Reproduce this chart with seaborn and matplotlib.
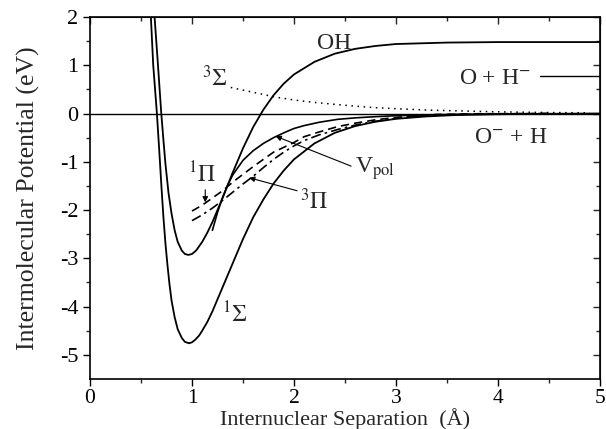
import matplotlib
matplotlib.use('Agg')
import matplotlib.pyplot as plt
import seaborn as sns

# curves (separation in Å, potential in eV)
sig1_r = [0.59, 0.62, 0.656, 0.68, 0.70, 0.72, 0.74, 0.76, 0.78, 0.80, 0.83, 0.86, 0.90, 0.93,
          0.97, 1.0, 1.03, 1.07, 1.1, 1.15, 1.2, 1.3, 1.4, 1.5, 1.6, 1.7, 1.8, 1.9, 2.0, 2.2, 2.4,
          2.6, 2.8, 3.0, 3.3, 3.6, 4.0, 4.5, 5.0]
sig1_v = [2.3, 1.0, 0.0, -0.8, -1.5, -2.15, -2.7, -3.15, -3.55, -3.88, -4.22, -4.47, -4.65, -4.73,
          -4.76, -4.74, -4.69, -4.6, -4.5, -4.32, -4.1, -3.6, -3.1, -2.6, -2.15, -1.78, -1.45, -1.18,
          -0.95, -0.62, -0.4, -0.26, -0.17, -0.11, -0.06, -0.03, -0.015, -0.005, 0.0]

oh_r = [0.625, 0.633, 0.66, 0.699, 0.72, 0.74, 0.77, 0.80, 0.83, 0.86, 0.90, 0.93, 0.965, 1.0,
        1.04, 1.1, 1.15, 1.2, 1.3, 1.4, 1.5, 1.6, 1.7, 1.8, 1.9, 2.0, 2.2, 2.4, 2.6, 2.8, 3.0, 3.5,
        4.0, 5.0]
oh_v = [2.3, 2.0, 1.2, 0.0, -0.55, -1.05, -1.65, -2.08, -2.42, -2.66, -2.84, -2.91, -2.93, -2.91,
        -2.84, -2.66, -2.47, -2.25, -1.75, -1.22, -0.72, -0.28, 0.08, 0.38, 0.62, 0.81, 1.07, 1.24,
        1.34, 1.40, 1.44, 1.47, 1.48, 1.48]

sig3_r = [1.38, 1.6, 1.82, 2.0, 2.2, 2.53, 2.8, 3.0, 3.33, 3.7, 4.0, 4.5, 4.9]
sig3_v = [0.54, 0.44, 0.34, 0.28, 0.23, 0.165, 0.12, 0.10, 0.07, 0.05, 0.035, 0.02, 0.015]

vpol_r = [1.2, 1.25, 1.3, 1.35, 1.4, 1.5, 1.6, 1.7, 1.8, 1.9, 2.0, 2.1, 2.25, 2.43, 2.6, 2.8, 3.0,
          3.4, 4.0, 5.0]
vpol_v = [-2.42, -2.05, -1.74, -1.48, -1.27, -0.97, -0.77, -0.62, -0.5, -0.4, -0.31, -0.25, -0.18,
          -0.12, -0.09, -0.065, -0.045, -0.025, -0.012, -0.005]

pi1_r = [1.0, 1.1, 1.2, 1.3, 1.4, 1.5, 1.6, 1.7, 1.8, 1.9, 2.0, 2.1, 2.25, 2.43, 2.6, 2.8, 2.92,
         3.1, 3.4, 3.8, 4.5]
pi1_v = [-2.02, -1.9, -1.75, -1.6, -1.42, -1.26, -1.1, -0.95, -0.8, -0.7, -0.6, -0.48, -0.38, -0.27,
         -0.2, -0.13, -0.1, -0.06, -0.02, -0.005, 0.0]

pi3_r = [1.0, 1.1, 1.2, 1.3, 1.4, 1.5, 1.6, 1.7, 1.8, 1.9, 2.0, 2.1, 2.25, 2.43, 2.6, 2.8, 3.0,
         3.2, 3.4, 3.8, 4.5]
pi3_v = [-2.22, -2.1, -1.96, -1.8, -1.63, -1.46, -1.3, -1.12, -0.95, -0.8, -0.67, -0.56, -0.44, -0.33,
         -0.24, -0.16, -0.1, -0.06, -0.03, -0.01, 0.0]

# O + H- asymptote marker
ohm_r = [4.41, 5.0]
ohm_v = [0.77, 0.77]

sns.set_style('ticks')
plt.rcParams['font.family'] = ['Liberation Serif', 'DejaVu Serif']
plt.rcParams['mathtext.fontset'] = 'stix'
plt.rcParams['axes.unicode_minus'] = False

fig = plt.figure(figsize=(6.06, 4.29), dpi=100)
ax = fig.add_axes([0.1485, 0.1166, 0.8416, 0.8438])

kw = dict(ax=ax, color='black', estimator=None, sort=False, legend=False)
sns.lineplot(x=sig1_r, y=sig1_v, lw=1.3, **kw)
sns.lineplot(x=oh_r, y=oh_v, lw=1.3, **kw)
sns.lineplot(x=vpol_r, y=vpol_v, lw=1.2, **kw)
sns.lineplot(x=sig3_r, y=sig3_v, lw=1.1, linestyle=(0, (1, 3)), **kw)
sns.lineplot(x=pi1_r, y=pi1_v, lw=1.2, linestyle=(0, (5, 3)), **kw)
sns.lineplot(x=pi3_r, y=pi3_v, lw=1.2, linestyle=(0, (6, 2.5, 1.5, 2.5)), **kw)
sns.lineplot(x=ohm_r, y=ohm_v, lw=1.0, **kw)
ax.axhline(0, color='black', lw=1.0)

ax.set_xlim(0, 5)
ax.set_ylim(-5.5, 2)
ax.set_xticks(range(0, 6))
ax.set_yticks(range(-5, 3))
ax.set_xticks([0.5, 1.5, 2.5, 3.5, 4.5], minor=True)
ax.set_yticks([-4.5, -3.5, -2.5, -1.5, -0.5, 0.5, 1.5], minor=True)
ax.tick_params(which='major', direction='out', length=5, width=1, labelsize=16, colors='black')
ax.tick_params(axis='x', which='major', pad=2, labelsize=15.5)
ax.tick_params(which='minor', direction='out', length=3, width=1)
for s in ax.spines.values():
    s.set_linewidth(1.2)
    s.set_color('black')

# top / right ticks point inward
top = ax.secondary_xaxis('top')
top.set_xticks(range(0, 6))
top.set_xticks([0.5, 1.5, 2.5, 3.5, 4.5], minor=True)
top.tick_params(which='major', direction='in', length=5, width=1, labeltop=False)
top.tick_params(which='minor', direction='in', length=3, width=1)
right = ax.secondary_yaxis('right')
right.set_yticks(range(-5, 3))
right.set_yticks([-4.5, -3.5, -2.5, -1.5, -0.5, 0.5, 1.5], minor=True)
right.tick_params(which='major', direction='in', length=5, width=1, labelright=False)
right.tick_params(which='minor', direction='in', length=3, width=1)

ax.set_xlabel('Internuclear Separation  (Å)', fontsize=16, labelpad=0)
ax.set_ylabel('Intermolecular Potential (eV)', fontsize=18.5, labelpad=14)

fs = 17
ax.text(2.39, 1.46, 'OH', fontsize=fs, ha='center', va='center')
ax.text(1.23, 0.72, r'$^{3}\Sigma$', fontsize=fs, ha='center', va='center')
ax.text(3.97, 0.72, r'O + H$^{-}$', fontsize=fs, ha='center', va='center')
ax.text(4.12, -0.5, r'O$^{-}$ + H', fontsize=fs, ha='center', va='center')
ax.text(1.10, -1.27, r'$^{1}\Pi$', fontsize=fs, ha='center', va='center')
ax.text(2.2, -1.82, r'$^{3}\Pi$', fontsize=fs, ha='center', va='center')
ax.text(1.42, -4.17, r'$^{1}\Sigma$', fontsize=fs, ha='center', va='center')
ax.text(2.6, -1.15, r'V$_{\mathrm{pol}}$', fontsize=fs, ha='left', va='center')

arrow = dict(arrowstyle='-|>', color='black', lw=0.8, mutation_scale=8, shrinkA=0, shrinkB=0)
ax.annotate('', xy=(1.13, -1.84), xytext=(1.13, -1.58), arrowprops=arrow)
ax.annotate('', xy=(1.56, -1.33), xytext=(2.03, -1.6), arrowprops=arrow)
ax.annotate('', xy=(1.82, -0.47), xytext=(2.56, -1.09), arrowprops=arrow)

fig.savefig('out.png', dpi=100)
